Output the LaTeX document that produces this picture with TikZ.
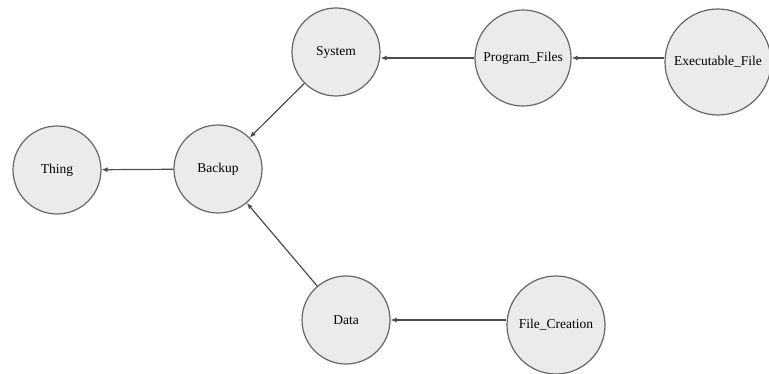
\documentclass[tikz,border=0pt]{standalone}
\usepackage{fontspec}
\setmainfont{Liberation Serif}
\usetikzlibrary{arrows.meta}
\begin{document}
\begin{tikzpicture}[x=1pt,y=-1pt,
  entity/.style={circle,draw=black!60,line width=1.2pt,fill=black!8,inner sep=0pt,
     font=\fontsize{13.5}{15}\selectfont,text=black},
  link/.style={draw=black!70,line width=1.2pt,-{Latex[length=6pt,width=5pt]}}]
\useasboundingbox (0,0) rectangle (769,374);
\node[entity,minimum size=88pt] (thing) at (57,170) {Thing};
\node[entity,minimum size=88pt] (backup) at (218,169) {Backup};
\node[entity,minimum size=88pt] (system) at (336,52) {System};
\node[entity,minimum size=96pt] (prog) at (523,58) {Program\_Files};
\node[entity,minimum size=106pt] (exec) at (718,62) {Executable\_File};
\node[entity,minimum size=88pt] (data) at (346,320) {Data};
\node[entity,minimum size=98pt] (fc) at (556,325) {File\_Creation};
\draw[link] (backup) -- (thing);
\draw[link] (system) -- (backup);
\draw[link] (data) -- (backup);
\draw[link] (prog.west) -- (system.east |- prog.west);
\draw[link] (exec.west |- prog.east) -- (prog.east);
\draw[link] (fc.west |- data.east) -- (data.east);
\end{tikzpicture}
\end{document}
